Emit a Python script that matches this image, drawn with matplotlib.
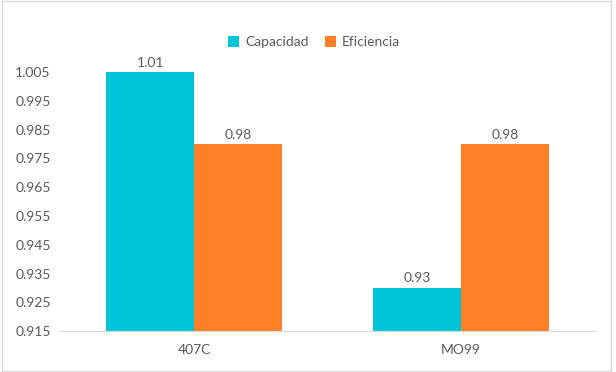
import numpy as np
import matplotlib.pyplot as plt
from matplotlib.patches import Rectangle

categorias = ['407C', 'MO99']
capacidad = [1.005, 0.93]
eficiencia = [0.98, 0.98]
etiquetas_cap = ['1.01', '0.93']
etiquetas_efi = ['0.98', '0.98']
yticks = [0.915, 0.925, 0.935, 0.945, 0.955, 0.965, 0.975, 0.985, 0.995, 1.005]

plt.rcParams['font.family'] = ['Lato', 'DejaVu Sans']
gris = '#595959'

fig = plt.figure(figsize=(6.16, 3.72), dpi=100)
ax = fig.add_axes([0.0982, 0.110, 0.867, 0.696])

x = np.arange(len(categorias))
w = 0.328
b1 = ax.bar(x - w / 2, np.array(capacidad) - 0.915, w, bottom=0.915, color='#00C5D9', label='Capacidad')
b2 = ax.bar(x + w / 2, np.array(eficiencia) - 0.915, w, bottom=0.915, color='#FF7F27', label='Eficiencia')

for xi, v, t in zip(x - w / 2, capacidad, etiquetas_cap):
    ax.text(xi, v + 0.0012, t, ha='center', va='bottom', fontsize=10, color=gris)
for xi, v, t in zip(x + w / 2, eficiencia, etiquetas_efi):
    ax.text(xi, v + 0.0012, t, ha='center', va='bottom', fontsize=10, color=gris)

ax.set_xlim(-0.5, 1.5)
ax.set_ylim(0.915, 1.005)
ax.set_yticks(yticks)
ax.set_yticklabels(['%.3f' % v for v in yticks])
ax.set_xticks(x)
ax.set_xticklabels(categorias)
ax.tick_params(axis='both', length=0, labelsize=10, colors=gris)
ax.tick_params(axis='y', pad=7)
ax.tick_params(axis='x', pad=9)
for s in ['top', 'right', 'left']:
    ax.spines[s].set_visible(False)
ax.spines['bottom'].set_color('#D9D9D9')

leg = fig.legend(loc='center', bbox_to_anchor=(0.51, 0.887), ncol=2, frameon=False,
                 fontsize=10, handlelength=0.8, handleheight=0.8, handletextpad=0.4,
                 columnspacing=1.2)
for t in leg.get_texts():
    t.set_color(gris)

fig.patches.append(Rectangle((0.003, 0.003), 0.989, 0.994, transform=fig.transFigure,
                             fill=False, edgecolor='#D9D9D9', linewidth=1))

fig.savefig('out.png', dpi=100)
